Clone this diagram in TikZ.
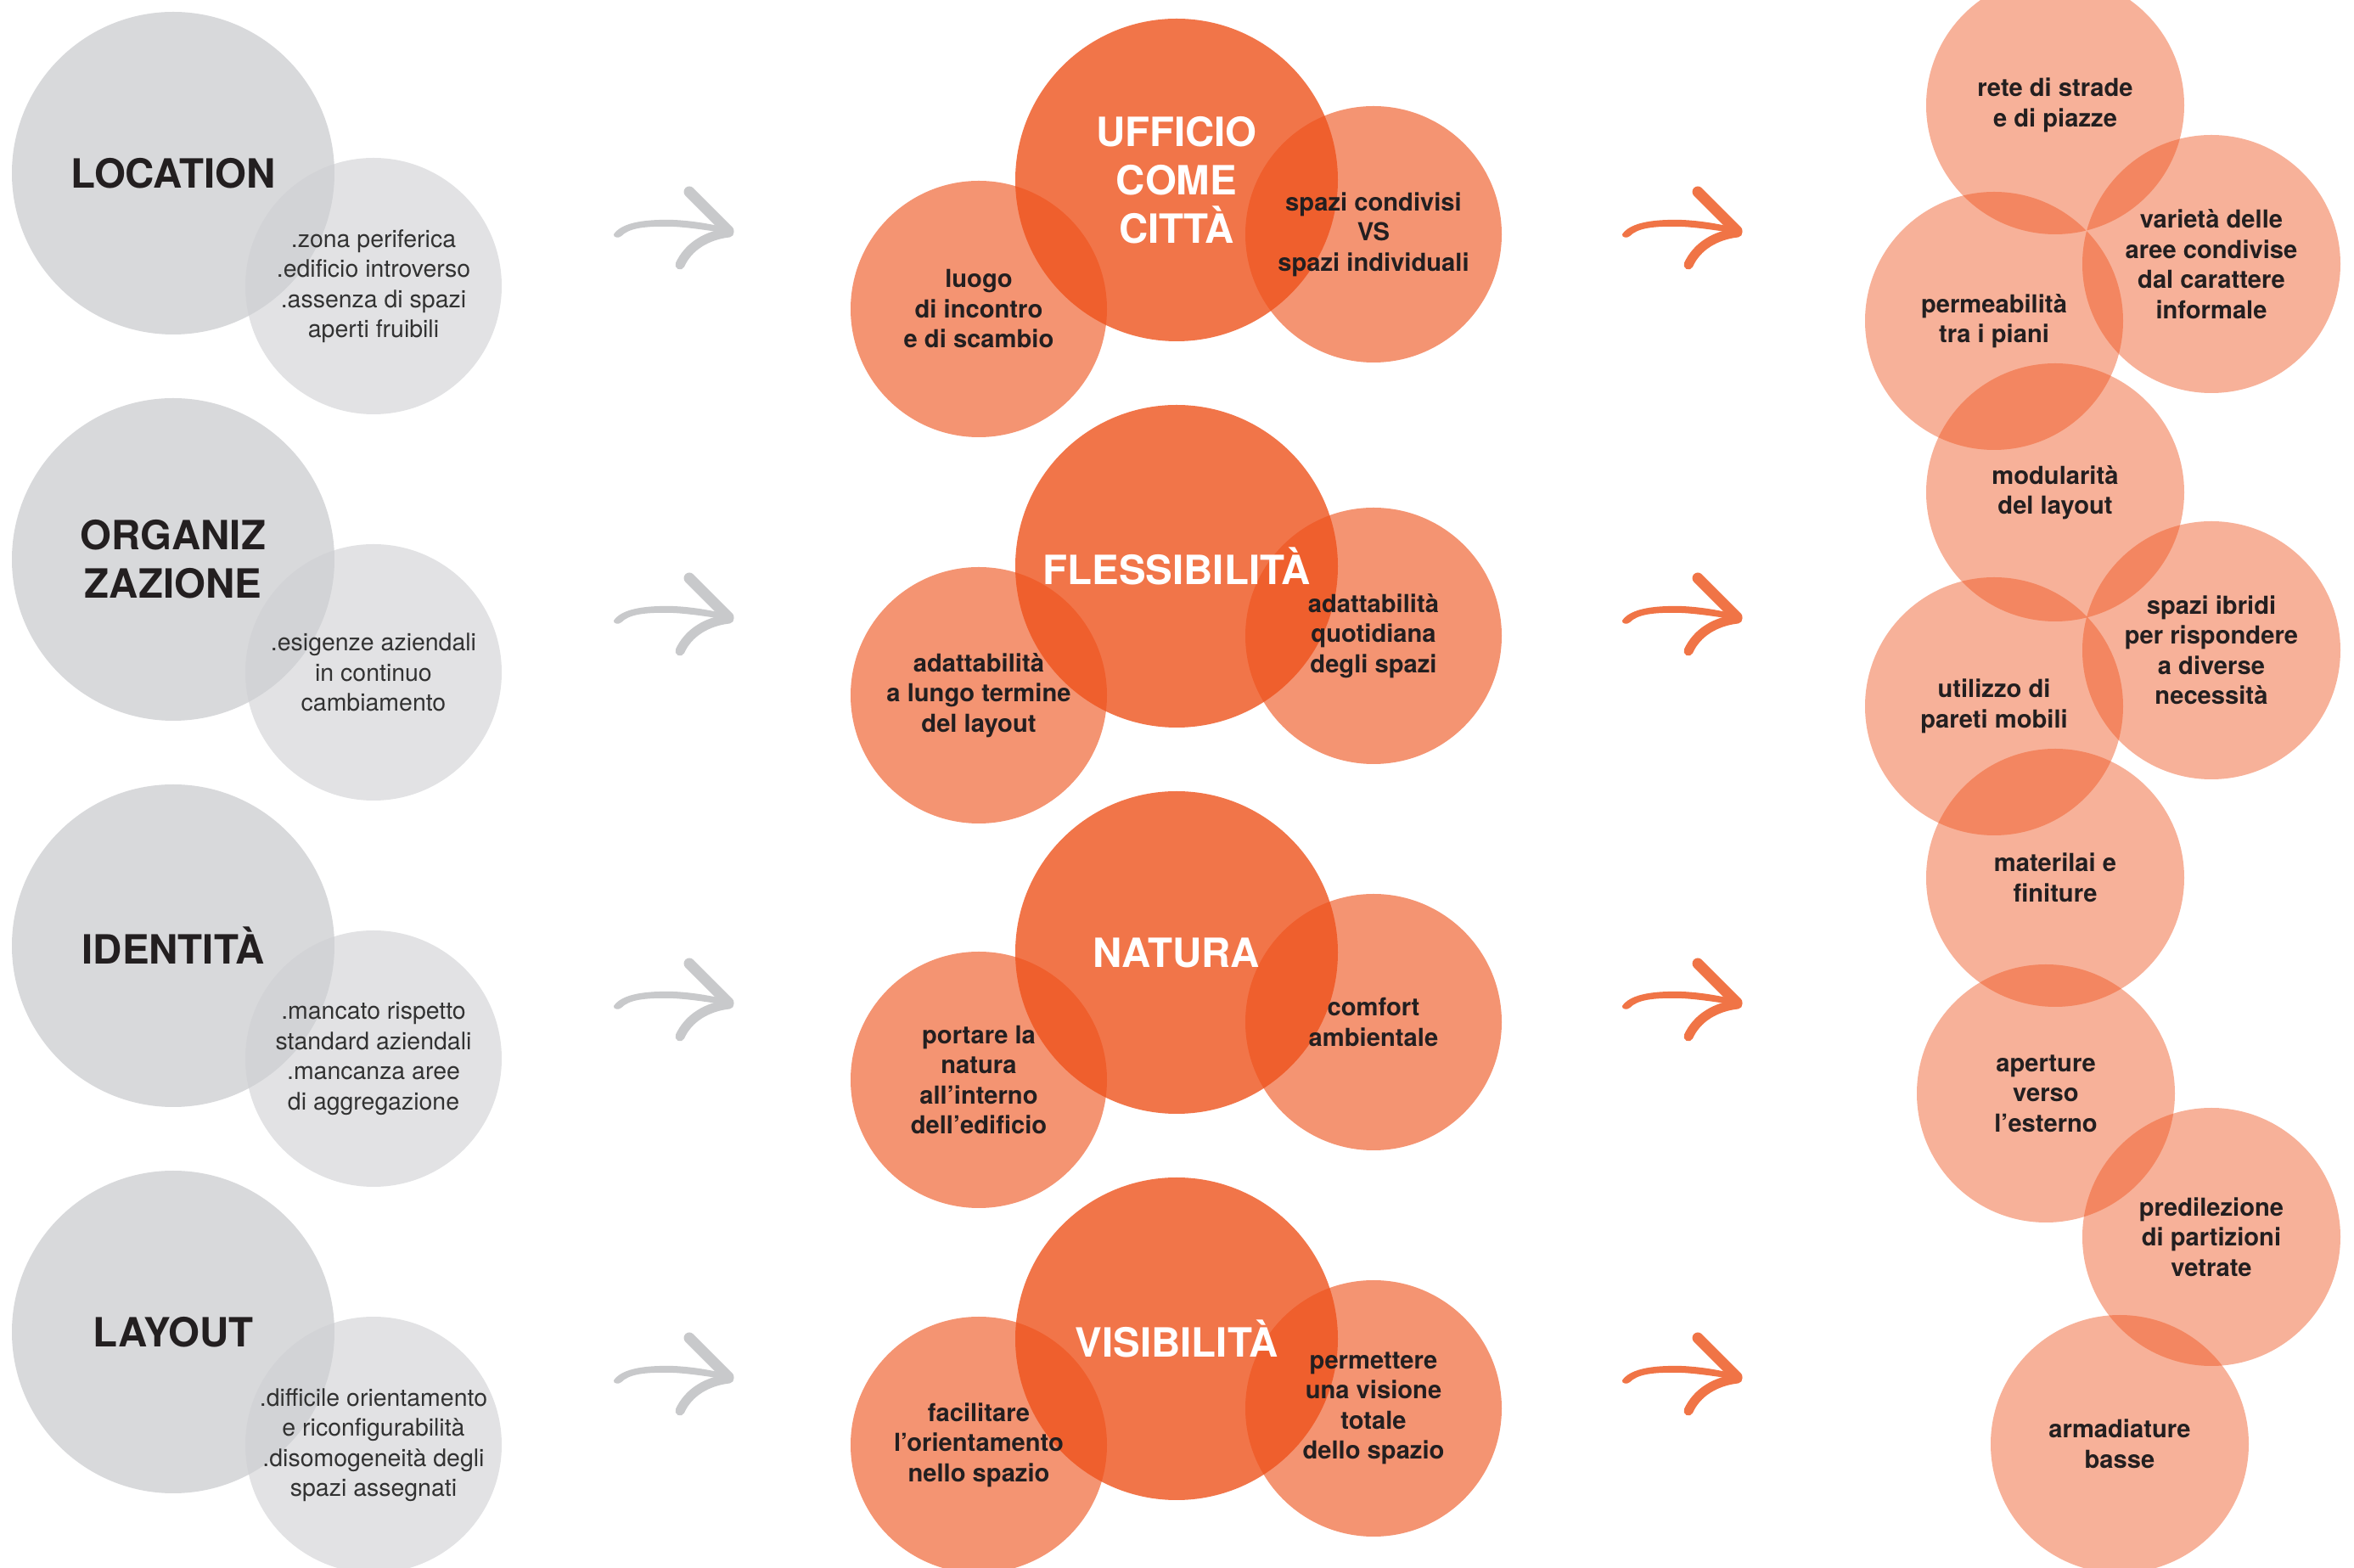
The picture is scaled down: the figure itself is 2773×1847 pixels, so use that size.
\documentclass[tikz,border=0pt]{standalone}
\usepackage{fontspec}
\setmainfont{TeX Gyre Heros}
\definecolor{orC}{RGB}{238,82,28}
\definecolor{grC}{RGB}{206,207,210}
\definecolor{arrG}{RGB}{200,201,203}
\definecolor{arrO}{RGB}{240,116,70}
\definecolor{ink}{RGB}{35,31,32}
\definecolor{inkgray}{RGB}{50,50,50}
\tikzset{
  graybig/.style={circle, minimum size=38mm, inner sep=0pt, draw=none, fill=grC, fill opacity=0.8},
  graysmall/.style={circle, minimum size=30.2mm, inner sep=0pt, draw=none, fill=grC, fill opacity=0.6},
  orbig/.style={circle, minimum size=38mm, inner sep=0pt, draw=none, fill=orC, fill opacity=0.8},
  orsmall/.style={circle, minimum size=30.2mm, inner sep=0pt, draw=none, fill=orC, fill opacity=0.62},
  orlight/.style={circle, minimum size=30.4mm, inner sep=0pt, draw=none, fill=orC, fill opacity=0.45},
  titletxt/.style={font=\fontsize{13.5}{16.2}\selectfont\bfseries, text=ink, align=center, inner sep=0pt},
  whitetitle/.style={titletxt, text=white},
  notetxt/.style={font=\fontsize{8.1}{10.1}\selectfont, text=inkgray, align=center, inner sep=0pt},
  boldtxt/.style={font=\fontsize{8.3}{10.1}\selectfont\bfseries, text=ink, align=center, inner sep=0pt},
  pics/brusharrow/.style={code={
    \fill[#1] (-140,4) .. controls (-132,-8) and (-110,-14) .. (-70,-13)
      .. controls (-45,-12) and (-20,-7) .. (-5,-3) -- (-5,3)
      .. controls (-25,0) and (-50,-4) .. (-70,-5)
      .. controls (-105,-6) and (-122,-3) .. (-131,6)
      .. controls (-134,9) and (-141,8) .. (-140,4) -- cycle;
    \draw[#1, line width=1.3mm, line cap=round] (-51,-46) -- (-5,0);
    \draw[#1, line width=1.1mm, line cap=round] (-4,2) .. controls (-30,5) and (-52,18) .. (-62,40);
  }}
}
\begin{document}
\begin{tikzpicture}[x=0.1mm, y=-0.1mm]
\path[use as bounding box] (0,0) rectangle (2773,1847);
\clip (0,0) rectangle (2773,1847);

% ---------- left column (grey) ----------
\node[graybig] (g1) at (204,204) {};
\node[graybig] (g2) at (204,659) {};
\node[graybig] (g3) at (204,1114) {};
\node[graybig] (g4) at (204,1569) {};
\node[graysmall] (s1) at (440,337) {};
\node[graysmall] (s2) at (440,792) {};
\node[graysmall] (s3) at (440,1247) {};
\node[graysmall] (s4) at (440,1702) {};

% ---------- middle column ----------
\node[orbig] (m1) at (1386,212) {};
\node[orbig] (m2) at (1386,667) {};
\node[orbig] (m3) at (1386,1122) {};
\node[orbig] (m4) at (1386,1577) {};
\node[orsmall] (l1) at (1153,364) {};
\node[orsmall] (l2) at (1153,819) {};
\node[orsmall] (l3) at (1153,1272) {};
\node[orsmall] (l4) at (1153,1702) {};
\node[orsmall] (r1) at (1618,276) {};
\node[orsmall] (r2) at (1618,749) {};
\node[orsmall] (r3) at (1618,1204) {};
\node[orsmall] (r4) at (1618,1659) {};

% ---------- right column ----------
\node[orlight] (c1) at (2421,124) {};
\node[orlight] (c2) at (2605,311) {};
\node[orlight] (c3) at (2349,378) {};
\node[orlight] (c4) at (2421,580) {};
\node[orlight] (c5) at (2605,766) {};
\node[orlight] (c6) at (2349,832) {};
\node[orlight] (c7) at (2421,1034) {};
\node[orlight] (c8) at (2410,1288) {};
\node[orlight] (c9) at (2605,1457) {};
\node[orlight] (c10) at (2497,1701) {};

% ---------- arrows ----------
\coordinate (ga1) at (863,272);
\coordinate (ga2) at (863,727);
\coordinate (ga3) at (863,1181);
\coordinate (ga4) at (863,1622);
\coordinate (oa1) at (2051,272);
\coordinate (oa2) at (2051,727);
\coordinate (oa3) at (2051,1181);
\coordinate (oa4) at (2051,1622);
\foreach \a in {ga1,ga2,ga3,ga4} { \pic at (\a) {brusharrow=arrG}; }
\foreach \a in {oa1,oa2,oa3,oa4} { \pic at (\a) {brusharrow=arrO}; }

% ---------- texts: left ----------
\node[titletxt] (tg1) at (g1) {LOCATION};
\node[titletxt] (tg2) at (g2) {ORGANIZ\\ZAZIONE};
\node[titletxt] (tg3) at (g3) {IDENTITÀ};
\node[titletxt] (tg4) at (g4) {LAYOUT};
\node[notetxt] (ts1) at (s1) {.zona periferica\\.edificio introverso\\.assenza di spazi\\aperti fruibili};
\node[notetxt] (ts2) at (s2) {.esigenze aziendali\\in continuo\\cambiamento};
\node[notetxt] (ts3) at (s3) {.mancato rispetto\\standard aziendali\\.mancanza aree\\di aggregazione};
\node[notetxt] (ts4) at (s4) {.difficile orientamento\\e riconfigurabilità\\.disomogeneità degli\\spazi assegnati};

% ---------- texts: middle ----------
\node[whitetitle] (tm1) at (m1) {UFFICIO\\COME\\CITTÀ};
\node[whitetitle] (tm2) at (m2) {FLESSIBILITÀ};
\node[whitetitle] (tm3) at (m3) {NATURA};
\node[whitetitle] (tm4) at (m4) {VISIBILITÀ};
\node[boldtxt] (tl1) at (l1) {luogo\\di incontro\\e di scambio};
\node[boldtxt] (tl2) at (l2) {adattabilità\\a lungo termine\\del layout};
\node[boldtxt] (tl3) at (l3) {portare la\\natura\\all’interno\\dell’edificio};
\node[boldtxt] (tl4) at (l4) {facilitare\\l’orientamento\\nello spazio};
\node[boldtxt] (tr1) at (r1) {spazi condivisi\\VS\\spazi individuali};
\node[boldtxt] (tr2) at (r2) {adattabilità\\quotidiana\\degli spazi};
\node[boldtxt] (tr3) at (r3) {comfort\\ambientale};
\node[boldtxt] (tr4) at (r4) {permettere\\una visione\\totale\\dello spazio};

% ---------- texts: right ----------
\node[boldtxt] (tc1) at (c1) {rete di strade\\e di piazze};
\node[boldtxt] (tc2) at (c2) {varietà delle\\aree condivise\\dal carattere\\informale};
\node[boldtxt] (tc3) at (c3) {permeabilità\\tra i piani};
\node[boldtxt] (tc4) at (c4) {modularità\\del layout};
\node[boldtxt] (tc5) at (c5) {spazi ibridi\\per rispondere\\a diverse\\necessità};
\node[boldtxt] (tc6) at (c6) {utilizzo di\\pareti mobili};
\node[boldtxt] (tc7) at (c7) {materilai e\\finiture};
\node[boldtxt] (tc8) at (c8) {aperture\\verso\\l’esterno};
\node[boldtxt] (tc9) at (c9) {predilezione\\di partizioni\\vetrate};
\node[boldtxt] (tc10) at (c10) {armadiature\\basse};
\end{tikzpicture}
\end{document}
